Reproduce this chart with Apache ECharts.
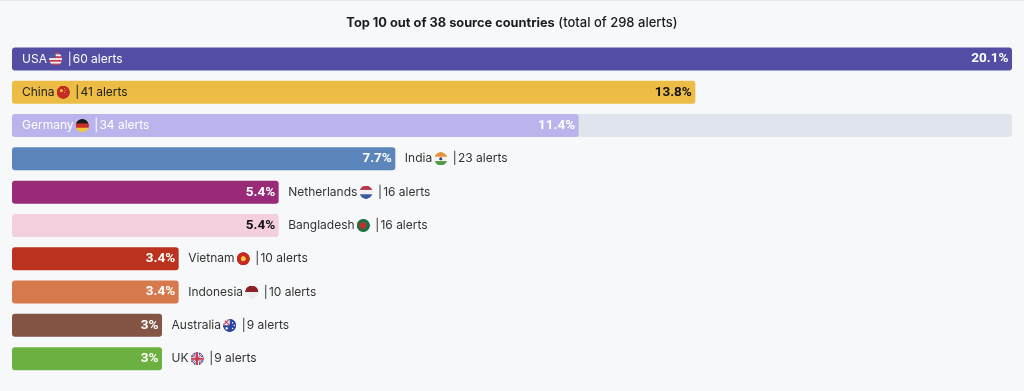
<!DOCTYPE html>
<html>
<head>
<meta charset="utf-8">
<style>
  html, body { margin: 0; padding: 0; background: #f7f8fa; }
  #main { width: 1024px; height: 391px; }
</style>
<script src="https://cdn.jsdelivr.net/npm/echarts@6/dist/echarts.min.js"></script>
</head>
<body>
<div id="main"></div>
<script>
const countries = ['USA', 'China', 'Germany', 'India', 'Netherlands', 'Bangladesh', 'Vietnam', 'Indonesia', 'Australia', 'UK'];
const alertCounts = [60, 41, 34, 23, 16, 16, 10, 10, 9, 9];
const shareLabels = ['20.1%', '13.8%', '11.4%', '7.7%', '5.4%', '5.4%', '3.4%', '3.4%', '3%', '3%'];
// only the Germany row shows the grey track in the original
const trackValues = [null, null, 60, null, null, null, null, null, null, null];

const barColors = ['#534da3', '#ecbc44', '#b9b5ec', '#5c86bb', '#982a78', '#f3cfdf', '#bb321e', '#d6794c', '#845445', '#6bb040'];
const shareColors = ['#fff', '#111', '#fff', '#fff', '#fff', '#111', '#fff', '#fff', '#fff', '#fff'];
const insideNameColors = { USA: '#fff', China: '#222', Germany: '#fff' };
const FONT = 'Inter, "Noto Sans", sans-serif';

// horizontal stripes, top to bottom
function stripes(ctx, colors) {
  const h = 26 / colors.length;
  colors.forEach((c, i) => {
    ctx.fillStyle = c;
    ctx.fillRect(0, i * h, 26, h + 0.5);
  });
}

function dot(ctx, x, y, r, color) {
  ctx.fillStyle = color;
  ctx.beginPath();
  ctx.arc(x, y, r, 0, Math.PI * 2);
  ctx.fill();
}

function cross(ctx, color, width) {
  ctx.fillStyle = color;
  ctx.fillRect(13 - width / 2, 0, width, 26);
  ctx.fillRect(0, 13 - width / 2, 26, width);
}

function diagonals(ctx, color, width, size) {
  ctx.strokeStyle = color;
  ctx.lineWidth = width;
  ctx.beginPath();
  ctx.moveTo(0, 0);
  ctx.lineTo(size, size);
  ctx.moveTo(size, 0);
  ctx.lineTo(0, size);
  ctx.stroke();
}

const flagPainters = {
  USA(ctx) {
    stripes(ctx, ['#c9405a', '#f3f0f0', '#c9405a', '#f3f0f0', '#c9405a', '#f3f0f0', '#c9405a']);
    ctx.fillStyle = '#4a5a9c';
    ctx.fillRect(0, 0, 13, 11);
  },
  China(ctx) {
    ctx.fillStyle = '#c62a26';
    ctx.fillRect(0, 0, 26, 26);
    dot(ctx, 9, 10, 3, '#eec33f');
    dot(ctx, 15, 6, 1, '#eec33f');
    dot(ctx, 17, 10, 1, '#eec33f');
    dot(ctx, 16, 14, 1, '#eec33f');
  },
  Germany(ctx) {
    stripes(ctx, ['#1b1b1b', '#c8302a', '#f2c83c']);
  },
  India(ctx) {
    stripes(ctx, ['#e8913a', '#f4f2ee', '#4f9a45']);
    dot(ctx, 13, 13, 3, '#2d3f8f');
  },
  Netherlands(ctx) {
    stripes(ctx, ['#b5384a', '#f2f0f0', '#3b5a9c']);
  },
  Bangladesh(ctx) {
    ctx.fillStyle = '#1f6e45';
    ctx.fillRect(0, 0, 26, 26);
    dot(ctx, 12, 13, 7, '#b5342f');
  },
  Vietnam(ctx) {
    ctx.fillStyle = '#c52b20';
    ctx.fillRect(0, 0, 26, 26);
    dot(ctx, 13, 13, 5, '#f0c93e');
  },
  Indonesia(ctx) {
    stripes(ctx, ['#8c2227', '#eeeeee']);
  },
  Australia(ctx) {
    ctx.fillStyle = '#2a44a0';
    ctx.fillRect(0, 0, 26, 26);
    ctx.fillStyle = '#eee';
    ctx.fillRect(0, 0, 13, 13);
    diagonals(ctx, '#c9405a', 2, 13);
    dot(ctx, 7, 19, 2.5, '#fff');
    dot(ctx, 19, 8, 1.5, '#fff');
    dot(ctx, 19, 19, 1.5, '#fff');
    dot(ctx, 22, 13, 1.5, '#fff');
  },
  UK(ctx) {
    ctx.fillStyle = '#3f4f9a';
    ctx.fillRect(0, 0, 26, 26);
    diagonals(ctx, '#eee', 4, 26);
    cross(ctx, '#eee', 7);
    diagonals(ctx, '#c9405a', 1.5, 26);
    cross(ctx, '#c9405a', 4);
  }
};

function flagCanvas(name) {
  const canvas = document.createElement('canvas');
  canvas.width = 26;
  canvas.height = 26;
  const ctx = canvas.getContext('2d');
  ctx.beginPath();
  ctx.arc(13, 13, 13, 0, Math.PI * 2);
  ctx.clip();
  flagPainters[name](ctx);
  return canvas;
}

// rich text styles: one inline image per flag
const richStyles = {};
countries.forEach((name, i) => {
  richStyles['flag' + i] = {
    width: 13,
    height: 13,
    backgroundColor: { image: flagCanvas(name) }
  };
});

function nameLabel(name, i) {
  const inside = name in insideNameColors;
  return {
    show: true,
    position: inside ? 'insideLeft' : 'right',
    distance: inside ? 10 : 9.5,
    color: inside ? insideNameColors[name] : '#333',
    fontFamily: FONT,
    fontSize: 12,
    // thin and hair spaces keep the flag and the pipe as tight as the original
    formatter: name + '\u2009{flag' + i + '|} \u2009|\u200a' + alertCounts[i] + ' alerts',
    rich: richStyles
  };
}

const option = {
  backgroundColor: '#f7f8fa',
  animation: false,
  title: {
    text: '{b|Top 10 out of 38 source countries}\u2009{m|(total of 298 alerts)}',
    left: 'center',
    top: 9,
    textStyle: {
      rich: {
        b: { fontFamily: FONT, fontSize: 12.8, fontWeight: 700, color: '#1a1c22' },
        m: { fontFamily: FONT, fontSize: 13, fontWeight: 500, color: '#1a1c22' }
      }
    }
  },
  graphic: [{
    type: 'rect',
    shape: { x: 0, y: 0, width: 1024, height: 1 },
    style: { fill: '#e4e8f1' }
  }],
  grid: { left: 12, right: 12, top: 42.3, bottom: 15.7 },
  xAxis: { type: 'value', min: 0, max: 60, show: false },
  yAxis: { type: 'category', inverse: true, data: countries, show: false },
  series: [
    {
      name: 'Track',
      type: 'bar',
      barWidth: 23,
      barGap: '-100%',
      silent: true,
      itemStyle: { color: '#e0e4ed', borderRadius: 3 },
      data: trackValues
    },
    {
      name: 'Share',
      type: 'bar',
      barWidth: 23,
      barGap: '-100%',
      itemStyle: { borderRadius: 3 },
      data: alertCounts.map((value, i) => ({
        value: value,
        itemStyle: { color: barColors[i] },
        label: {
          show: true,
          position: 'insideRight',
          distance: 3.5,
          formatter: shareLabels[i],
          color: shareColors[i],
          fontFamily: 'Roboto, ' + FONT,
          fontSize: 13.5,
          fontWeight: 700
        }
      }))
    },
    {
      name: 'Country',
      type: 'bar',
      barWidth: 23,
      barGap: '-100%',
      itemStyle: { color: 'transparent' },
      data: alertCounts.map((value, i) => ({
        value: value,
        label: nameLabel(countries[i], i)
      }))
    }
  ]
};

const myChart = echarts.init(document.getElementById('main'));
myChart.setOption(option);
window.addEventListener('resize', function () {
  myChart.resize();
});
</script>
</body>
</html>
